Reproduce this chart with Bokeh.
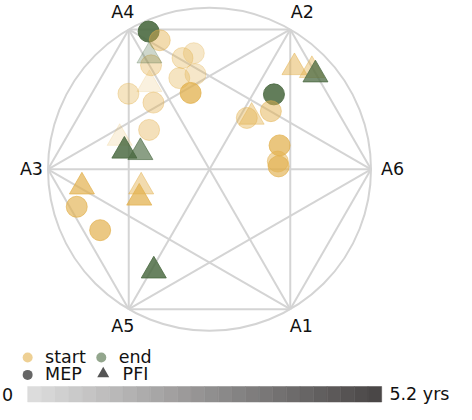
import numpy as np
from bokeh.plotting import figure
from bokeh.models import Range1d
from bokeh.core.properties import value
from bokeh.embed import file_html
from bokeh.resources import INLINE

# ---------------- data ----------------
node_names = ["A6", "A2", "A4", "A3", "A5", "A1"]
node_angles = [0, 60, 120, 180, 240, 300]

# MEP (circles)
mep_x = [-0.377, -0.308, -0.362, -0.097, -0.167, -0.087, -0.187, -0.117, -0.502, -0.347,
         -0.374, -0.822, -0.677, 0.399, 0.380, 0.231, 0.434, 0.423, 0.428]
mep_y = [0.853, 0.799, 0.644, 0.719, 0.689, 0.589, 0.565, 0.473, 0.468, 0.413,
         0.244, -0.232, -0.377, 0.464, 0.360, 0.318, 0.148, 0.048, 0.018]
mep_phase = ["end", "start", "start", "start", "start", "start", "start", "start", "start", "start",
             "start", "start", "start", "end", "start", "start", "start", "start", "start"]
mep_years = [5.2, 2.2, 1.6, 1.2, 1.5, 1.2, 1.5, 4.2, 1.5, 1.8,
             1.8, 3.5, 3.8, 5.0, 2.5, 2.0, 4.0, 2.5, 3.5]

# PFI (triangles)
pfi_x = [-0.372, -0.372, -0.556, -0.527, -0.428, -0.790, -0.423, -0.435, -0.345,
         0.526, 0.634, 0.656, 0.261]
pfi_y = [0.703, 0.526, 0.193, 0.114, 0.105, -0.108, -0.108, -0.177, -0.628,
         0.631, 0.613, 0.586, 0.324]
pfi_phase = ["end", "start", "start", "end", "end", "start", "start", "start", "end",
             "start", "start", "end", "start"]
pfi_years = [1.0, 0.4, 0.4, 4.8, 3.5, 3.8, 2.2, 4.0, 4.8,
             2.5, 2.0, 4.2, 2.0]

t_min, t_max = 0.0, 5.2
legend_phase = ["start", "end"]
legend_kind = ["MEP", "PFI"]
bar_labels = ["0", "5.2 yrs"]

# ---------------- styles ----------------
phase_color = {"start": "#E2B04C", "end": "#4B6A41"}
grid_color = "#d4d4d4"
FONT = value("DejaVu Sans")
FS = value("17.5px")


def alpha_of(t):
    return 0.12 + 0.78 * (t - t_min) / (t_max - t_min)


p = figure(width=456, height=404,
           x_range=Range1d(-1.2941, 1.5294), y_range=Range1d(-1.4563, 1.0452),
           output_backend="svg", toolbar_location=None,
           x_axis_location=None, y_axis_location=None,
           min_border=0, outline_line_color=None)
p.grid.visible = False
p.background_fill_color = "white"
p.border_fill_color = "white"

# nodes and the complete graph
ang = np.deg2rad(node_angles)
nx, ny = np.cos(ang), np.sin(ang)
x0, y0, x1, y1 = [], [], [], []
for i in range(len(node_names)):
    for j in range(i + 1, len(node_names)):
        x0.append(nx[i]); y0.append(ny[i]); x1.append(nx[j]); y1.append(ny[j])
p.segment(x0=x0, y0=y0, x1=x1, y1=y1, line_color=grid_color, line_width=2)
p.circle(x=[0], y=[0], radius=1, fill_color=None, line_color=grid_color, line_width=2)

# node labels
offsets = {"A6": (10, 0, "left"), "A2": (12, -17, "center"), "A4": (-6, -17, "center"),
           "A3": (-5, 0, "right"), "A5": (-6, 17, "center"), "A1": (11, 17, "center")}
for name, xx, yy in zip(node_names, nx, ny):
    dx, dy, al = offsets[name]
    p.text(x=[xx], y=[yy], text=[name], x_offset=dx, y_offset=dy,
           text_font=FONT, text_font_size=FS, text_color="#111111",
           text_align=al, text_baseline="middle")

# points
mep_col = [phase_color[ph] for ph in mep_phase]
mep_a = [alpha_of(t) for t in mep_years]
p.scatter(x=mep_x, y=mep_y, marker="circle", size=21, fill_color=mep_col,
          fill_alpha=mep_a, line_color=mep_col, line_alpha=mep_a, line_width=1)
pfi_col = [phase_color[ph] for ph in pfi_phase]
pfi_a = [alpha_of(t) for t in pfi_years]
p.scatter(x=pfi_x, y=pfi_y, marker="triangle", size=25, fill_color=pfi_col,
          fill_alpha=pfi_a, line_color=pfi_col, line_alpha=pfi_a, line_width=1)

# legend (drawn)
p.scatter(x=[-1.126, -0.670], y=[-1.165, -1.165], marker="circle", size=10,
          fill_color=[phase_color[k] for k in legend_phase], fill_alpha=0.6, line_color=None)
p.scatter(x=[-1.126], y=[-1.273], marker="circle", size=10, fill_color="#666666", line_color=None)
p.scatter(x=[-0.658], y=[-1.266], marker="triangle", size=12, fill_color="#555555", line_color=None)
p.text(x=[-1.018, -0.562], y=[-1.162, -1.162], text=legend_phase, text_font=FONT,
       text_font_size=FS, text_color="#111111", text_baseline="middle", text_align="left")
p.text(x=[-1.018, -0.538], y=[-1.270, -1.270], text=legend_kind, text_font=FONT,
       text_font_size=FS, text_color="#111111", text_baseline="middle", text_align="left")

# color bar for years
bx0, bx1, by0, by1 = -1.126, 1.066, -1.441, -1.345
nstep = 26
edges = np.linspace(t_min, t_max, nstep + 1)
c0 = np.array([0xdc, 0xdc, 0xdc]); c1 = np.array([0x4a, 0x47, 0x47])
lefts, rights, cols = [], [], []
for k in range(nstep):
    f = k / (nstep - 1)
    c = (c0 + (c1 - c0) * f).round().astype(int)
    cols.append("#%02x%02x%02x" % tuple(c))
    lefts.append(bx0 + (edges[k] - t_min) / (t_max - t_min) * (bx1 - bx0))
    rights.append(bx0 + (edges[k + 1] - t_min) / (t_max - t_min) * (bx1 - bx0))
p.quad(left=lefts, right=rights, bottom=by0, top=by1, fill_color=cols, line_color=cols, line_width=0.5)
p.text(x=[bx0 - 0.09], y=[-1.393], text=[bar_labels[0]], text_font=FONT, text_font_size=FS,
       text_color="#111111", text_baseline="middle", text_align="right")
p.text(x=[bx1 + 0.048], y=[-1.393], text=[bar_labels[1]], text_font=FONT, text_font_size=FS,
       text_color="#111111", text_baseline="middle", text_align="left")

open("out.html", "w").write(file_html(p, INLINE))
